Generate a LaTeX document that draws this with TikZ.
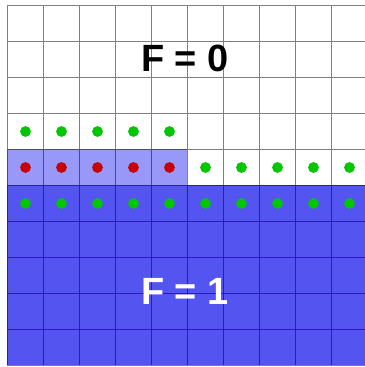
\documentclass[tikz,border=0pt]{standalone}
\usepackage{fontspec}
\setmainfont{Liberation Sans}
\usepackage{tikz}
\definecolor{fullblue}{RGB}{84,84,240}
\definecolor{partblue}{RGB}{152,152,248}
\definecolor{dotgreen}{RGB}{0,200,0}
\definecolor{dotred}{RGB}{204,0,0}
\tikzset{
  gridline/.style = {draw=black, opacity=0.5, line width=1.1pt},
  dotnode/.style  = {circle, fill=#1, inner sep=0pt,
                     minimum size=0.3cm},
  dotnode/.default= dotgreen,
  fraclabel/.style= {font=\fontsize{30}{36}\selectfont\bfseries,
                     text=#1, inner sep=0pt},
}

\begin{document}
\begin{tikzpicture}

  \useasboundingbox (-0.208,-0.042) rectangle (9.931,10.153);
  \clip (-0.208,-0.042) rectangle (9.931,10.153);

  %% ---- Cell fills ----
  \fill[fullblue] (0,0) rectangle (10,5);
  \fill[partblue] (0,5) rectangle (5,6);

  %% ---- Grid ----
  \draw[gridline] (0,0) grid (10,10);

  %% ---- Dots: interface cells ----
  \foreach \i in {0,...,4}
    \node[dotnode] (upper-\i) at (\i+0.5,6.5) {};
  \foreach \i in {0,...,4}
    \node[dotnode=dotred] (mixed-\i) at (\i+0.5,5.5) {};
  \foreach \i in {5,...,9}
    \node[dotnode] (upper-\i) at (\i+0.5,5.5) {};
  \foreach \i in {0,...,9}
    \node[dotnode] (full-\i) at (\i+0.5,4.5) {};

  %% ---- Labels ----
  \node[fraclabel=black] (fzero) at (4.93,8.52) {F = 0};
  \node[fraclabel=white] (fone)  at (4.93,2.05) {F = 1};

\end{tikzpicture}
\end{document}
